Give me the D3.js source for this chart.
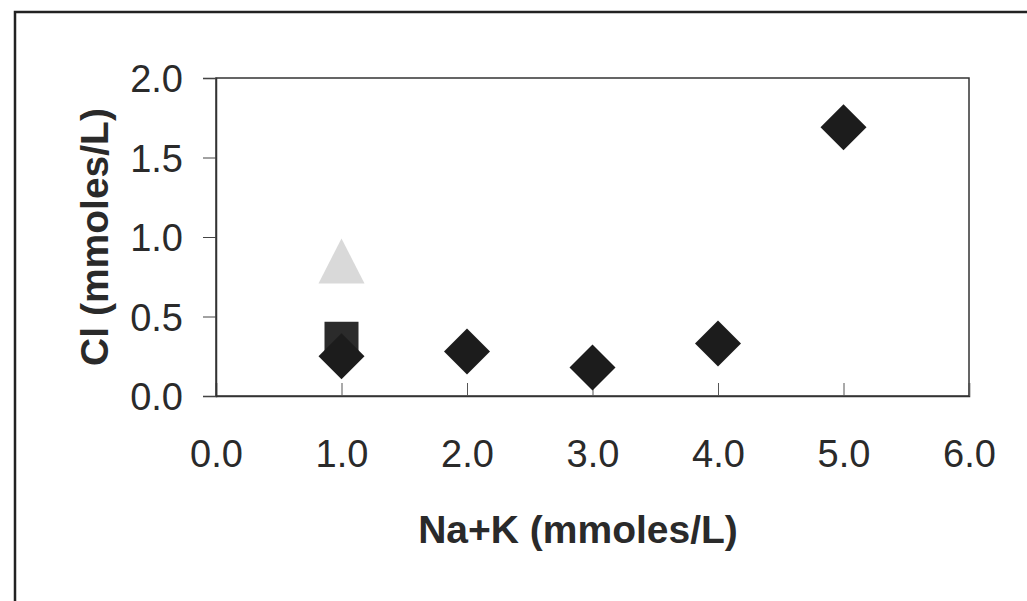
<!DOCTYPE html>
<html>
<head>
<meta charset="utf-8">
<script src="https://cdn.jsdelivr.net/npm/d3@7"></script>
<style>
  body { margin: 0; background: #fff; }
  svg { display: block; }
</style>
</head>
<body>
<script>
// Data
const diamondX = [1.0, 2.0, 3.0, 4.0, 5.0];
const diamondY = [0.25, 0.28, 0.18, 0.33, 1.69];
const squareX = [1.0];
const squareY = [0.36];
const triangleX = [1.0];
const triangleY = [0.84];
const xTicks = [0, 1, 2, 3, 4, 5, 6];
const yTicks = [0, 0.5, 1.0, 1.5, 2.0];

const W = 1027, H = 601;
const plot = { left: 216, right: 969, top: 78, bottom: 396 };
const font = "Liberation Sans, Arial, sans-serif";

const svg = d3.select("body").append("svg")
    .attr("width", W)
    .attr("height", H);

// outer frame (runs off the right and bottom)
svg.append("rect")
    .attr("x", 15).attr("y", 12)
    .attr("width", W + 10).attr("height", H + 10)
    .attr("fill", "none")
    .attr("stroke", "#222")
    .attr("stroke-width", 2.5);

const x = d3.scaleLinear().domain([0, 6]).range([plot.left, plot.right]);
const y = d3.scaleLinear().domain([0, 2]).range([plot.bottom, plot.top]);

// plot box
svg.append("rect")
    .attr("x", plot.left).attr("y", plot.top)
    .attr("width", plot.right - plot.left)
    .attr("height", plot.bottom - plot.top)
    .attr("fill", "none")
    .attr("stroke", "#333")
    .attr("stroke-width", 1.5);

// x axis: ticks point up into the plot
const xAxis = svg.append("g")
    .attr("transform", `translate(0,${plot.bottom})`)
    .call(d3.axisBottom(x).tickValues(xTicks).tickSize(-13).tickPadding(0).tickFormat(d3.format(".1f")));
xAxis.select(".domain").attr("stroke", "#333").attr("stroke-width", 1.5);
xAxis.selectAll(".tick line").attr("stroke", "#555");
xAxis.selectAll("text")
    .attr("y", 71)
    .attr("dy", 0)
    .attr("font-family", font)
    .attr("font-size", "38px")
    .attr("fill", "#2a2a2a");

// y axis: ticks point outward
const yAxis = svg.append("g")
    .attr("transform", `translate(${plot.left},0)`)
    .call(d3.axisLeft(y).tickValues(yTicks).tickSize(13).tickPadding(20).tickFormat(d3.format(".1f")));
yAxis.select(".domain").attr("stroke", "#333").attr("stroke-width", 1.5);
yAxis.selectAll(".tick line").attr("stroke", "#444");
yAxis.selectAll("text")
    .attr("dy", "0.36em")
    .attr("font-family", font)
    .attr("font-size", "38px")
    .attr("fill", "#2a2a2a");

// axis titles
svg.append("text")
    .attr("x", 578).attr("y", 543)
    .attr("text-anchor", "middle")
    .attr("font-family", font)
    .attr("font-weight", "bold")
    .attr("font-size", "39px")
    .attr("fill", "#2a2a2a")
    .text("Na+K (mmoles/L)");

svg.append("text")
    .attr("transform", `translate(108,${(plot.top + plot.bottom) / 2}) rotate(-90)`)
    .attr("text-anchor", "middle")
    .attr("font-family", font)
    .attr("font-weight", "bold")
    .attr("font-size", "39px")
    .attr("fill", "#2a2a2a")
    .text("Cl (mmoles/L)");

// markers
const triangle = triangleX.map((v, i) => ({ x: v, y: triangleY[i] }));
const square = squareX.map((v, i) => ({ x: v, y: squareY[i] }));
const diamond = diamondX.map((v, i) => ({ x: v, y: diamondY[i] }));

svg.selectAll(".tri").data(triangle).enter().append("path")
    .attr("class", "tri")
    .attr("transform", d => `translate(${x(d.x)},${y(d.y)})`)
    .attr("d", "M0,-24 L23,21 L-23,21 Z")
    .attr("fill", "#d9d9d9");

svg.selectAll(".sq").data(square).enter().append("rect")
    .attr("class", "sq")
    .attr("x", d => x(d.x) - 17)
    .attr("y", d => y(d.y) - 17)
    .attr("width", 34).attr("height", 34)
    .attr("fill", "#2b2b2b");

svg.selectAll(".dia").data(diamond).enter().append("path")
    .attr("class", "dia")
    .attr("transform", d => `translate(${x(d.x)},${y(d.y)})`)
    .attr("d", "M0,-23 L23,0 L0,23 L-23,0 Z")
    .attr("fill", "#1c1c1c");
</script>
</body>
</html>
